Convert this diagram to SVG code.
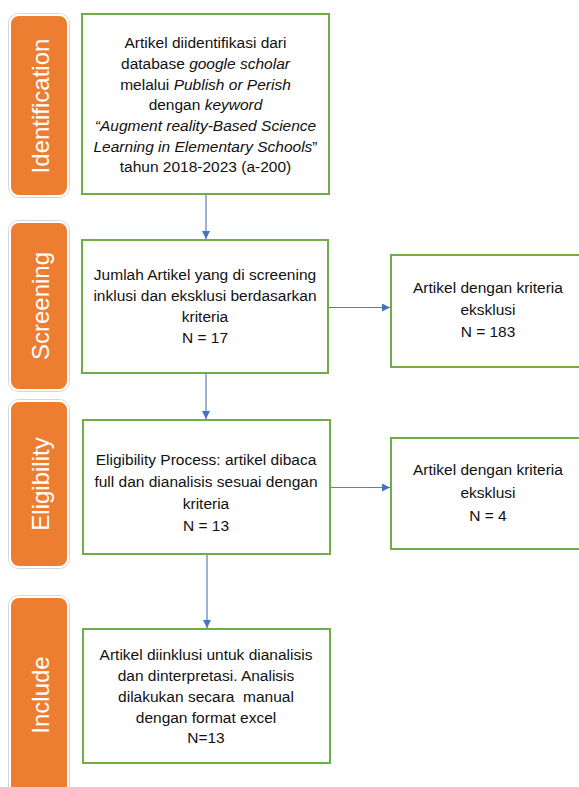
<svg xmlns="http://www.w3.org/2000/svg" width="579" height="787" viewBox="0 0 579 787">
<defs>
<marker id="ah" markerWidth="8" markerHeight="8" refX="8" refY="4" orient="auto" markerUnits="userSpaceOnUse">
<path d="M0,0 L8,4 L0,8 Z" fill="#4472c4"/>
</marker>
</defs>
<style>
.stage rect.bg{fill:none;stroke:#d6d6d6;stroke-width:1}
.stage rect.fg{fill:#ed7d31;stroke:#ffffff;stroke-width:2}
.stage text{fill:#ffffff;font-family:"Liberation Sans",Arial,sans-serif;font-size:24px;text-anchor:middle;dominant-baseline:central}
.box rect{fill:#ffffff;stroke:#70ad47;stroke-width:2}
.box text{fill:#111111;font-family:"Liberation Sans",Arial,sans-serif;font-size:15.5px;text-anchor:middle}
.it{font-style:italic}
.conn line{stroke:#5a7dc0;stroke-width:1.2;marker-end:url(#ah)}
</style>
<rect width="579" height="787" fill="#ffffff"/>

<g id="stage-identification" class="stage">
<rect class="bg" x="8.5" y="13.5" width="61" height="184" rx="10"/>
<rect class="fg" x="10" y="15" width="58" height="181" rx="9"/>
<text transform="translate(40,106) rotate(-90)">Identification</text>
</g>
<g id="stage-screening" class="stage">
<rect class="bg" x="8.5" y="220.5" width="61" height="171" rx="10"/>
<rect class="fg" x="10" y="222" width="58" height="168" rx="9"/>
<text transform="translate(40,306) rotate(-90)">Screening</text>
</g>
<g id="stage-eligibility" class="stage">
<rect class="bg" x="8.5" y="399.5" width="61" height="169" rx="10"/>
<rect class="fg" x="10" y="401" width="58" height="166" rx="9"/>
<text transform="translate(40,484) rotate(-90)">Eligibility</text>
</g>
<g id="stage-include" class="stage">
<rect class="bg" x="8.5" y="595.5" width="61" height="220" rx="10"/>
<rect class="fg" x="10" y="597" width="58" height="217" rx="9"/>
<text transform="translate(40,695) rotate(-90)">Include</text>
</g>

<g id="connectors" class="conn">
<line x1="206" y1="195" x2="206" y2="239"/>
<line x1="329" y1="307.5" x2="390" y2="307.5"/>
<line x1="206" y1="373" x2="206" y2="419"/>
<line x1="330" y1="487.5" x2="390" y2="487.5"/>
<line x1="207" y1="554" x2="207" y2="628"/>
</g>

<g id="box-identification" class="box">
<rect x="82" y="14" width="247" height="180"/>
<text x="205.5" y="48">Artikel diidentifikasi dari</text>
<text x="205.5" y="69">database <tspan class="it">google scholar</tspan></text>
<text x="205.5" y="90">melalui <tspan class="it">Publish or Perish</tspan></text>
<text x="205.5" y="110">dengan <tspan class="it">keyword</tspan></text>
<text x="205.5" y="131" class="it">“Augment reality-Based Science</text>
<text x="205.5" y="152"><tspan class="it">Learning in Elementary Schools</tspan>”</text>
<text x="205.5" y="172">tahun 2018-2023 (a-200)</text>
</g>

<g id="box-screening" class="box">
<rect x="82" y="240" width="246" height="133"/>
<text x="205" y="280">Jumlah Artikel yang di screening</text>
<text x="205" y="301">inklusi dan eksklusi berdasarkan</text>
<text x="205" y="322">kriteria</text>
<text x="205" y="343">N = 17</text>
</g>

<g id="box-excluded-1" class="box">
<rect x="391" y="255" width="200" height="112"/>
<text x="488" y="293">Artikel dengan kriteria</text>
<text x="488" y="315">eksklusi</text>
<text x="488" y="337">N = 183</text>
</g>

<g id="box-eligibility" class="box">
<rect x="83" y="420" width="247" height="134"/>
<text x="206" y="465">Eligibility Process: artikel dibaca</text>
<text x="206" y="487">full dan dianalisis sesuai dengan</text>
<text x="206" y="509">kriteria</text>
<text x="206" y="531">N = 13</text>
</g>

<g id="box-excluded-2" class="box">
<rect x="391" y="438" width="200" height="111"/>
<text x="488" y="475">Artikel dengan kriteria</text>
<text x="488" y="498">eksklusi</text>
<text x="488" y="521">N = 4</text>
</g>

<g id="box-include" class="box">
<rect x="83" y="629" width="247" height="134"/>
<text x="206" y="660">Artikel diinklusi untuk dianalisis</text>
<text x="206" y="681">dan dinterpretasi. Analisis</text>
<text x="206" y="702">dilakukan secara&#160; manual</text>
<text x="206" y="723">dengan format excel</text>
<text x="206" y="743">N=13</text>
</g>
</svg>
